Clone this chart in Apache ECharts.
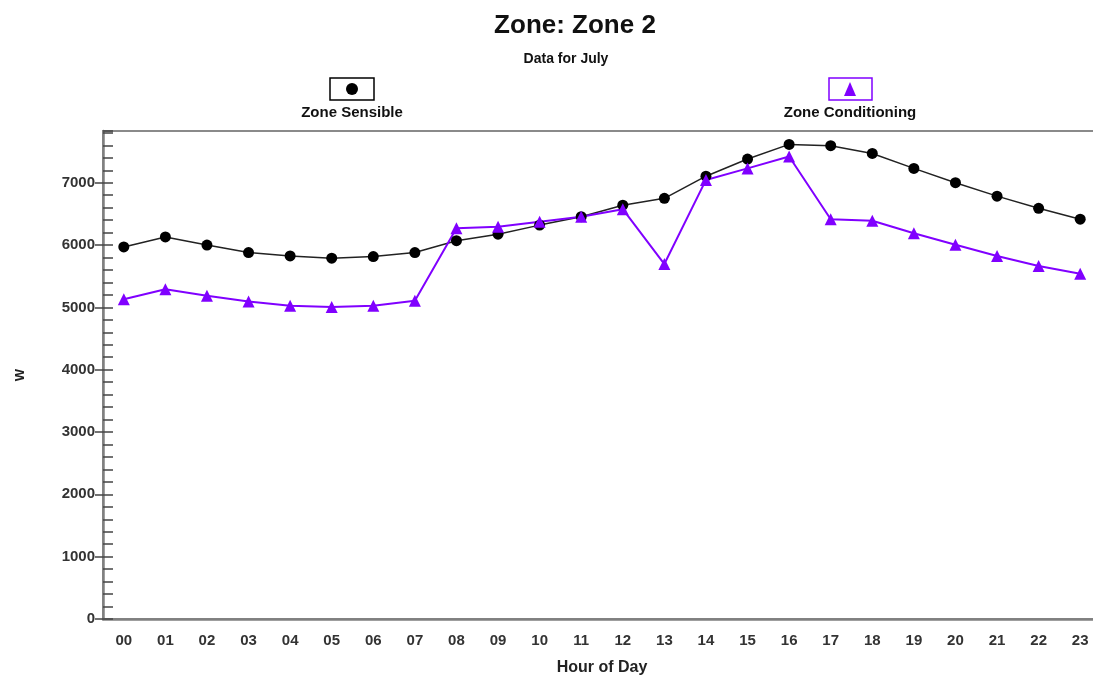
<!DOCTYPE html>
<html><head><meta charset="utf-8">
<script src="https://cdn.jsdelivr.net/npm/echarts@6/dist/echarts.min.js"></script>
<style>html,body{margin:0;padding:0;background:#fff}#c{width:1093px;height:682px}</style>
</head><body><div id="c"></div>
<script>
const hours = ['00','01','02','03','04','05','06','07','08','09','10','11','12','13','14','15','16','17','18','19','20','21','22','23'];
const zoneSensible = [5970,6130,6000,5880,5825,5790,5815,5880,6070,6175,6320,6455,6640,6750,7105,7380,7615,7595,7470,7230,7000,6785,6590,6415];
const zoneConditioning = [5130,5290,5185,5095,5025,5005,5025,5105,6270,6295,6375,6455,6575,5695,7045,7230,7420,6415,6390,6190,6005,5825,5665,5540];
const yTicks = [0,1000,2000,3000,4000,5000,6000,7000];

const FONT = '"Liberation Sans", Roboto, sans-serif';
const chart = echarts.init(document.getElementById('c'));
const yMax = 7830;
chart.setOption({
  animation: false,
  textStyle: {fontFamily: FONT},
  title: [
    {text: 'Zone: Zone 2', left: 570, top: 8, textAlign: 'center',
     textStyle: {fontFamily: FONT, fontSize: 26, fontWeight: 'bold', color: '#111'}},
    {text: 'Data for July', left: 561, top: 47, textAlign: 'center',
     textStyle: {fontFamily: FONT, fontSize: 14, fontWeight: 'bold', color: '#111'}}
  ],
  graphic: [
    {type: 'rect', shape: {x: 330, y: 78, width: 44, height: 22}, style: {fill: '#fff', stroke: '#000', lineWidth: 1.5}},
    {type: 'circle', shape: {cx: 352, cy: 89, r: 6}, style: {fill: '#000'}},
    {type: 'text', x: 352, y: 105, style: {text: 'Zone Sensible', fontFamily: FONT, fontSize: 15, fontWeight: 'bold', fill: '#111', align: 'center'}},
    {type: 'rect', shape: {x: 829, y: 78, width: 43, height: 22}, style: {fill: '#fff', stroke: '#8000ff', lineWidth: 1.5}},
    {type: 'polygon', shape: {points: [[850, 82], [856, 96], [844, 96]]}, style: {fill: '#8000ff'}},
    {type: 'text', x: 850, y: 105, style: {text: 'Zone Conditioning', fontFamily: FONT, fontSize: 15, fontWeight: 'bold', fill: '#111', align: 'center'}}
  ],
  grid: {left: 103, top: 131, width: 998, height: 488, show: true, borderColor: '#8a8a8a', borderWidth: 2,
         containLabel: false, outerBoundsMode: 'none'},
  xAxis: {
    type: 'category', data: hours, boundaryGap: true,
    name: 'Hour of Day', nameLocation: 'middle', nameGap: 41,
    nameTextStyle: {fontFamily: FONT, fontSize: 16, fontWeight: 'bold', color: '#222'},
    axisLine: {lineStyle: {color: '#808080', width: 2.5}},
    axisTick: {alignWithLabel: true, length: 8, lineStyle: {color: '#444', width: 1.5}},
    axisLabel: {fontFamily: FONT, fontSize: 15, fontWeight: 'bold', color: '#333', margin: 14},
    splitLine: {show: false}
  },
  yAxis: [
    {type: 'value', min: 0, max: yMax, interval: 1000,
     name: 'W', nameLocation: 'middle', nameGap: 76, nameRotate: 90,
     nameTextStyle: {fontFamily: FONT, fontSize: 13, fontWeight: 'bold', color: '#222'},
     axisLine: {show: true, lineStyle: {color: '#808080', width: 2.5}},
     axisTick: {show: true, length: 8, inside: false, lineStyle: {color: '#444', width: 1.5}},
     axisLabel: {fontFamily: FONT, fontSize: 15, fontWeight: 'bold', color: '#333', margin: 8, showMaxLabel: false,
       formatter: v => yTicks.includes(v) ? String(v) : ''},
     splitLine: {show: false}},
    {type: 'value', min: 0, max: yMax, interval: 200, position: 'left', offset: 0,
     axisLine: {show: false},
     axisTick: {show: true, length: 10, inside: true, lineStyle: {color: '#444', width: 1.5}},
     axisLabel: {show: false}, splitLine: {show: false}}
  ],
  series: [
    {name: 'Zone Sensible', type: 'line', data: zoneSensible, yAxisIndex: 0,
     symbol: 'circle', symbolSize: 11, itemStyle: {color: '#000'},
     lineStyle: {color: '#222', width: 1.5}},
    {name: 'Zone Conditioning', type: 'line', data: zoneConditioning, yAxisIndex: 0,
     symbol: 'triangle', symbolSize: 12, itemStyle: {color: '#8000ff'},
     lineStyle: {color: '#8000ff', width: 2}}
  ]
});
</script></body></html>
